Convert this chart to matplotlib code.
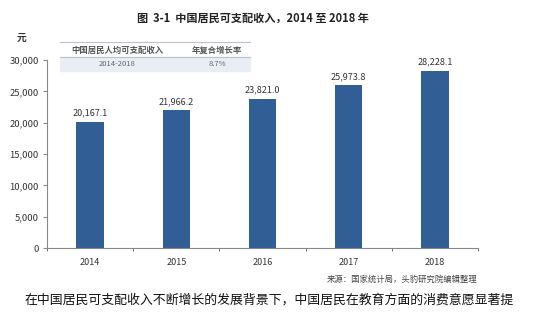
import numpy as np
import matplotlib.pyplot as plt

plt.rcParams['font.family'] = ['Noto Sans CJK SC', 'DejaVu Sans']

years = ['2014', '2015', '2016', '2017', '2018']
income = [20167.1, 21966.2, 23821.0, 25973.8, 28228.1]
yticks = [0, 5000, 10000, 15000, 20000, 25000, 30000]
table_head = ['中国居民人均可支配收入', '年复合增长率']
table_row = ['2014-2018', '8.7%']

W, H = 534, 321
fig = plt.figure(figsize=(W / 100, H / 100), dpi=100)
ax = fig.add_axes([47 / W, (H - 248) / H, 431 / W, 188 / H])

x = np.arange(len(years))
ax.bar(x, income, width=0.32, color='#325E96', zorder=2)
for xi, v in zip(x, income):
    ax.text(xi, v + 700, f'{v:,.1f}', ha='center', va='bottom', fontsize=6.5, color='#333333')

ax.set_xlim(-0.5, 4.5)
ax.set_ylim(0, 30000)
ax.set_yticks(yticks)
ax.set_yticklabels([f'{t:,}' for t in yticks], fontsize=6.8, color='#333333')
ax.set_xticks(x)
ax.set_xticklabels(years, fontsize=6.5, color='#333333')
ax.tick_params(axis='x', length=0, pad=7)
ax.set_xticks(np.arange(-0.5, 5, 1), minor=True)
ax.tick_params(axis='x', which='minor', length=2.5, color='#555555', direction='out')
ax.tick_params(axis='y', length=3, color='#888888', pad=3)
for s in ['top', 'right']:
    ax.spines[s].set_visible(False)
ax.spines['left'].set_color('#888888')
ax.spines['bottom'].set_color('#888888')

# title and unit
fig.text(253 / W, 1 - 18 / H, '图  3-1  中国居民可支配收入，2014 至 2018 年', ha='center', va='center',
         fontsize=8, fontweight='bold', color='#222222')
fig.text(22 / W, 1 - 38 / H, '元', ha='center', va='center', fontsize=7, fontweight='bold', color='#333333')

# small inset table
tx0, tx1 = 60 / W, 250 / W
fig.patches.append(plt.Rectangle((tx0, 1 - 71 / H), tx1 - tx0, 14 / H, transform=fig.transFigure,
                                 color='#E9EDF4', zorder=0))
for yy in [42, 57]:
    fig.add_artist(plt.Line2D([tx0, tx1], [1 - yy / H, 1 - yy / H], color='#B8C2D2', lw=0.8))
fig.text(117 / W, 1 - 50 / H, table_head[0], ha='center', va='center', fontsize=6, color='#555555', fontweight='bold')
fig.text(217 / W, 1 - 50 / H, table_head[1], ha='center', va='center', fontsize=6, color='#555555', fontweight='bold')
fig.text(117 / W, 1 - 64 / H, table_row[0], ha='center', va='center', fontsize=5.5, color='#666666')
fig.text(217 / W, 1 - 64 / H, table_row[1], ha='center', va='center', fontsize=5.5, color='#666666')

# source and caption
fig.text(477 / W, 1 - 279 / H, '来源：国家统计局，头豹研究院编辑整理', ha='right', va='center',
         fontsize=6, style='italic', color='#444444')
fig.text(25 / W, 1 - 300 / H, '在中国居民可支配收入不断增长的发展背景下，中国居民在教育方面的消费意愿显著提',
         ha='left', va='center', fontsize=9.3, color='#111111')

fig.savefig('out.png', dpi=100)
